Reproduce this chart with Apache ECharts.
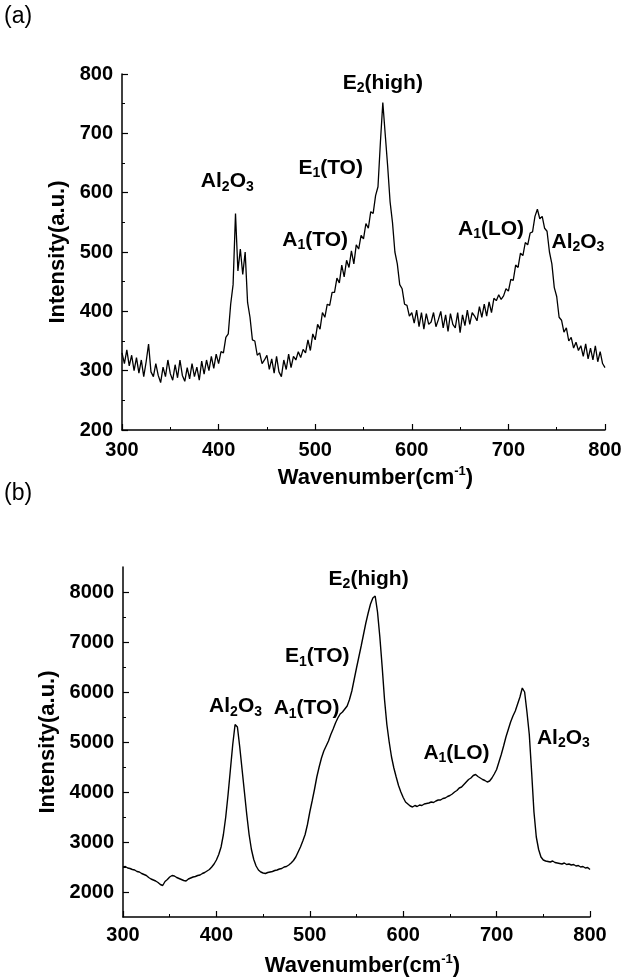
<!DOCTYPE html>
<html><head><meta charset="utf-8">
<script src="https://cdn.jsdelivr.net/npm/echarts@6/dist/echarts.min.js"></script>
<style>html,body{margin:0;padding:0;background:#fff}#c{width:639px;height:979px}</style>
</head><body><div id="c"></div>
<script>
// Raman spectra, sampled every 2.5 cm-1 from 300 to 800 cm-1
const wavenumberStart = 300;
const wavenumberStep = 2.5;

const intensityA = [
  330,312,335,308,326,300,322,296,318,290,
  315,345,298,290,312,292,280,306,290,318,
  295,284,310,288,318,292,282,305,286,312,
  290,306,284,316,294,318,300,324,304,328,
  312,332,330,356,362,412,445,565,468,505,
  462,500,415,390,352,350,326,330,312,318,
  326,302,320,296,324,298,290,318,302,328,
  305,324,318,332,322,336,330,352,334,362,
  352,378,370,398,390,412,410,432,432,456,
  448,478,458,486,474,502,480,512,505,528,
  522,548,540,568,565,595,610,685,752,698,
  645,585,550,500,480,445,438,412,410,392,
  398,380,402,374,398,370,396,378,382,398,
  374,386,400,372,394,366,396,378,372,398,
  364,394,376,402,378,398,392,384,408,390,
  412,392,416,398,422,418,428,420,426,438,
  434,454,452,478,474,498,494,516,512,532,
  534,560,572,556,560,540,535,500,480,440,
  425,390,385,365,372,350,356,338,348,334,
  342,324,345,320,338,318,342,315,332,312,
  305
];

const intensityB = [
  2500,2510,2480,2470,2450,2440,2410,2400,2370,2350,
  2330,2290,2260,2240,2220,2190,2150,2130,2210,2250,
  2300,2330,2320,2290,2270,2250,2230,2220,2260,2280,
  2300,2310,2330,2340,2370,2390,2420,2450,2500,2560,
  2640,2750,2900,3150,3500,3950,4450,4950,5350,5300,
  4900,4450,4000,3550,3150,2850,2650,2520,2440,2400,
  2380,2370,2390,2400,2410,2430,2440,2460,2470,2500,
  2510,2540,2580,2630,2700,2800,2900,3020,3150,3350,
  3600,3820,4050,4300,4500,4680,4820,4920,5020,5150,
  5260,5380,5480,5560,5600,5660,5720,5850,6020,6250,
  6480,6700,6920,7150,7380,7580,7760,7880,7920,7600,
  7100,6500,5850,5350,5000,4700,4480,4300,4130,4000,
  3890,3800,3760,3720,3700,3730,3710,3740,3730,3760,
  3770,3780,3800,3790,3820,3840,3840,3870,3880,3910,
  3930,3960,4000,4030,4080,4100,4150,4200,4250,4280,
  4330,4350,4310,4280,4250,4230,4200,4220,4280,4360,
  4450,4600,4750,4920,5100,5250,5400,5520,5620,5760,
  5900,6080,6000,5600,5150,4400,3600,3100,2850,2700,
  2640,2620,2610,2600,2620,2590,2580,2570,2560,2580,
  2550,2560,2540,2550,2520,2530,2500,2510,2480,2490,
  2450
];

const xTicks = [300, 400, 500, 600, 700, 800];
const yTicksA = [200, 300, 400, 500, 600, 700, 800];
const yTicksB = [2000, 3000, 4000, 5000, 6000, 7000, 8000];
const yMinorB = [2500, 3500, 4500, 5500, 6500, 7500];

// peak labels (rich text) and the data point where each label is centred
const peakTextA = ['{t|Al}{s|2}{t|O}{s|3}', '{t|A}{s|1}{t|(TO)}', '{t|E}{s|1}{t|(TO)}', '{t|E}{s|2}{t|(high)}', '{t|A}{s|1}{t|(LO)}', '{t|Al}{s|2}{t|O}{s|3}'];
const peakXA = [409, 500, 516, 570, 682, 772];
const peakYA = [619, 520, 642, 785, 539, 517];

const peakTextB = ['{t|Al}{s|2}{t|O}{s|3}', '{t|A}{s|1}{t|(TO)}', '{t|E}{s|1}{t|(TO)}', '{t|E}{s|2}{t|(high)}', '{t|A}{s|1}{t|(LO)}', '{t|Al}{s|2}{t|O}{s|3}'];
const peakXB = [420.5, 496.5, 508, 563, 657, 771.5];
const peakYB = [5710, 5670, 6710, 8260, 4780, 5080];

const FONT = '"Liberation Sans", Arial, Helvetica, sans-serif';
const rich = {
  t: {fontFamily: FONT, fontWeight: 'bold', fontSize: 21, color: '#000', lineHeight: 25},
  s: {fontFamily: FONT, fontWeight: 'bold', fontSize: 14, color: '#000', lineHeight: 14, verticalAlign: 'bottom'},
  p: {fontFamily: FONT, fontWeight: 'bold', fontSize: 13, color: '#000', lineHeight: 13, verticalAlign: 'top'}
};
const richName = {
  t: {fontFamily: FONT, fontWeight: 'bold', fontSize: 22, color: '#000', lineHeight: 26},
  p: {fontFamily: FONT, fontWeight: 'bold', fontSize: 13, color: '#000', lineHeight: 13, verticalAlign: 'top'}
};

const toPairs = arr => arr.map((v, i) => [wavenumberStart + i * wavenumberStep, v]);

const lineAxis = {lineStyle: {color: '#000', width: 1.5}};
const labelStyle = {color: '#000', fontSize: 20, fontWeight: 'bold', fontFamily: FONT, formatter: v => String(v)};

function xAxisFor(gi, margin, gap, pad) {
  return {
    gridIndex: gi, type: 'value', min: 300, max: 800, interval: 100,
    name: '{t|Wavenumber(cm}{p|-1}{t|)}', nameLocation: 'middle', nameGap: gap,
    nameTextStyle: {rich: richName, padding: [0, 0, 0, pad]},
    axisLine: lineAxis,
    axisTick: {inside: true, length: 6, lineStyle: {color: '#000', width: 1.2}},
    minorTick: {show: true, splitNumber: 2, length: 3, lineStyle: {color: '#000', width: 1}},
    axisLabel: Object.assign({margin: margin, customValues: xTicks}, labelStyle),
    splitLine: {show: false}
  };
}

function markFor(texts, xs, ys) {
  return {
    symbol: 'circle', symbolSize: 1, silent: true, animation: false,
    itemStyle: {color: 'rgba(0,0,0,0)'},
    label: {show: true, position: 'inside', color: '#000', rich: rich},
    data: texts.map((t, i) => ({coord: [xs[i], ys[i]], label: {formatter: t}}))
  };
}

const chart = echarts.init(document.getElementById('c'), null, {renderer: 'canvas'});
chart.setOption({
  animation: false,
  backgroundColor: '#fff',
  graphic: [
    {type: 'text', left: 4, top: 5, style: {text: '(a)', font: '23px ' + FONT, fill: '#000'}},
    {type: 'text', left: 4, top: 482, style: {text: '(b)', font: '23px ' + FONT, fill: '#000'}}
  ],
  grid: [
    {left: 122, top: 74, width: 483, height: 356},
    {left: 123, top: 567, width: 467, height: 350}
  ],
  xAxis: [xAxisFor(0, 10, 35, 24), xAxisFor(1, 8, 36, 12)],
  yAxis: [
    {
      gridIndex: 0, type: 'value', min: 200, max: 800, interval: 100,
      name: 'Intensity(a.u.)', nameLocation: 'middle', nameGap: 50,
      nameTextStyle: {color: '#000', fontSize: 22, fontWeight: 'bold', fontFamily: FONT},
      axisLine: lineAxis,
      axisTick: {inside: true, length: 6, lineStyle: {color: '#000', width: 1.2}},
      minorTick: {show: true, splitNumber: 2, length: 3, lineStyle: {color: '#000', width: 1}},
      axisLabel: Object.assign({margin: 9, customValues: yTicksA}, labelStyle),
      splitLine: {show: false}
    },
    {
      gridIndex: 1, type: 'value', min: 1500, max: 8500, interval: 500,
      name: 'Intensity(a.u.)', nameLocation: 'middle', nameGap: 62,
      nameTextStyle: {color: '#000', fontSize: 22, fontWeight: 'bold', fontFamily: FONT},
      axisLine: lineAxis,
      axisTick: {inside: true, length: 6, customValues: yTicksB, lineStyle: {color: '#000', width: 1.2}},
      axisLabel: Object.assign({margin: 9, customValues: yTicksB}, labelStyle),
      splitLine: {show: false}
    },
    {
      gridIndex: 1, type: 'value', min: 1500, max: 8500, interval: 500, position: 'left', offset: 0,
      axisLine: {show: false},
      axisTick: {inside: true, length: 3, customValues: yMinorB, lineStyle: {color: '#000', width: 1}},
      axisLabel: {show: false},
      splitLine: {show: false}
    }
  ],
  series: [
    {
      type: 'line', xAxisIndex: 0, yAxisIndex: 0, data: toPairs(intensityA),
      showSymbol: false, symbol: 'none', lineStyle: {color: '#000', width: 1.3},
      markPoint: markFor(peakTextA, peakXA, peakYA)
    },
    {
      type: 'line', xAxisIndex: 1, yAxisIndex: 1, data: toPairs(intensityB),
      showSymbol: false, symbol: 'none', lineStyle: {color: '#000', width: 1.4},
      markPoint: markFor(peakTextB, peakXB, peakYB)
    }
  ]
});
</script>
</body></html>
